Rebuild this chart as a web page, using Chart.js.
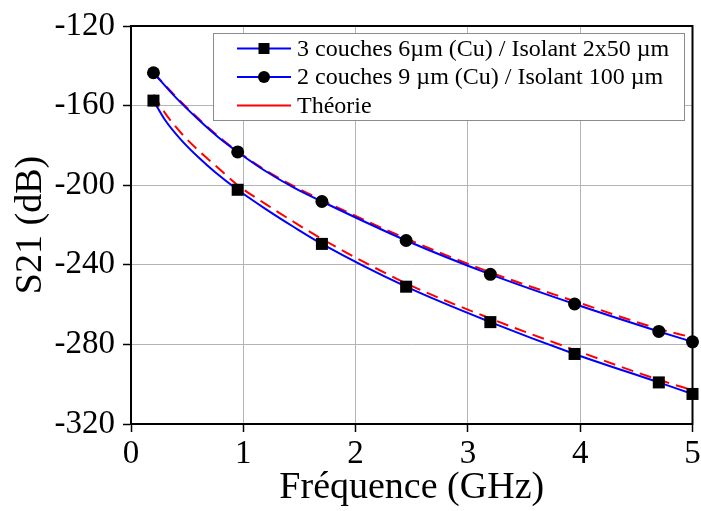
<!DOCTYPE html>
<html>
<head>
<meta charset="utf-8">
<script src="https://cdn.jsdelivr.net/npm/chart.js@4.4.1/dist/chart.umd.min.js"></script>
<style>
  html, body { margin: 0; padding: 0; background: #fff; }
  #wrap { width: 701px; height: 511px; }
</style>
</head>
<body>
<div id="wrap"><canvas id="c" width="701" height="511"></canvas></div>
<script>
// ---- Data ----
const markerX = [0.2, 0.95, 1.7, 2.45, 3.2, 3.95, 4.7, 5.0];

const freq3 = [0.2, 0.3, 0.45, 0.6, 0.75, 0.95, 1.2, 1.45, 1.7, 2.45, 3.2, 3.95, 4.7, 5.0];
const s21_3couches = [-157.5, -167, -177.5, -186, -193.5, -202.3, -212, -221, -229.5, -251, -268.8, -284.8, -299.1, -304.9];

const freq2 = [0.2, 0.4, 0.6, 0.78, 0.95, 1.2, 1.45, 1.7, 2.45, 3.2, 3.95, 4.7, 5.0];
const s21_2couches = [-143.5, -156, -167, -176, -183.3, -193, -201.2, -208.2, -227.8, -244.8, -259.7, -273.5, -278.7];

const freqTh3 = [0.2, 0.3, 0.45, 0.6, 0.75, 0.95, 1.2, 1.45, 1.7, 2.45, 3.2, 3.95, 4.7, 5.0];
const theorie3 = [-154.5, -163.5, -174, -182.5, -190, -200, -209.5, -218.5, -227, -249.3, -267, -282.8, -297.8, -303];

const freqTh2 = [0.2, 0.4, 0.6, 0.78, 0.95, 1.2, 1.45, 1.7, 2.45, 3.2, 3.95, 4.7, 5.0];
const theorie2 = [-143.5, -155.5, -166.5, -175.5, -183, -192.5, -200.5, -207.5, -226.8, -243.8, -258.3, -272.2, -276.5];

const legendLabels = ["3 couches 6\u00b5m (Cu) / Isolant 2x50 \u00b5m", "2 couches 9 \u00b5m (Cu) / Isolant 100 \u00b5m", "Th\u00e9orie"];
const xTitle = "Fr\u00e9quence (GHz)";
const yTitle = "S21 (dB)";
const xMin = 0, xMax = 5, xStep = 1;
const yMin = -320, yMax = -120, yStep = 40;

// ---- Build chart ----
const pts = (xs, ys) => xs.map((x, i) => ({x: x, y: ys[i]}));
const isMarker = (ctx, r) => (ctx.raw && markerX.some(m => Math.abs(m - ctx.raw.x) < 1e-9)) ? r : 0;

Chart.defaults.font.family = "'Liberation Serif', 'Times New Roman', serif";
Chart.defaults.color = '#000';

const FONT = "'Liberation Serif', 'Times New Roman', serif";

const frame = {
  id: 'frame',
  beforeDatasetsDraw(chart) {
    const {ctx, chartArea: a} = chart;
    ctx.save();
    ctx.strokeStyle = '#000';
    ctx.lineWidth = 2;
    ctx.strokeRect(a.left, a.top, a.right - a.left, a.bottom - a.top);
    ctx.restore();
  }
};

const boxLegend = {
  id: 'boxLegend',
  afterDraw(chart) {
    const {ctx, chartArea: a} = chart;
    const l = a.left + 82, t = a.top + 7, w = 471, h = 87;
    ctx.save();
    ctx.fillStyle = '#fff';
    ctx.fillRect(l, t, w, h);
    ctx.strokeStyle = '#8c8c8c';
    ctx.lineWidth = 1;
    ctx.strokeRect(l + 0.5, t + 0.5, w, h);
    const items = [
      {color: '#0000ff', marker: 'rect'},
      {color: '#0000ff', marker: 'circle'},
      {color: '#ff0000', marker: null}
    ];
    ctx.font = "24px " + FONT;
    ctx.textBaseline = 'middle';
    ctx.textAlign = 'left';
    items.forEach((it, i) => {
      const y = t + 15.5 + i * 28.5;
      ctx.strokeStyle = it.color;
      ctx.lineWidth = 2;
      ctx.beginPath();
      ctx.moveTo(l + 24, y);
      ctx.lineTo(l + 78, y);
      ctx.stroke();
      ctx.fillStyle = '#000';
      if (it.marker === 'rect') {
        ctx.fillRect(l + 51 - 5.5, y - 5.5, 11, 11);
      } else if (it.marker === 'circle') {
        ctx.beginPath();
        ctx.arc(l + 51, y, 6, 0, Math.PI * 2);
        ctx.fill();
      }
      ctx.fillStyle = '#000';
      ctx.fillText(legendLabels[i], l + 84, y + 1);
    });
    ctx.restore();
  }
};

new Chart(document.getElementById('c'), {
  type: 'line',
  data: {
    datasets: [
      {
        label: legendLabels[0],
        data: pts(freq3, s21_3couches),
        borderColor: '#0000ff',
        borderWidth: 2,
        cubicInterpolationMode: 'monotone',
        pointStyle: 'rect',
        pointRadius: ctx => isMarker(ctx, 8.5),
        pointBackgroundColor: '#000',
        pointBorderColor: '#000',
        pointBorderWidth: 0,
        clip: false,
        order: 0
      },
      {
        label: legendLabels[1],
        data: pts(freq2, s21_2couches),
        borderColor: '#0000ff',
        borderWidth: 2,
        cubicInterpolationMode: 'monotone',
        pointStyle: 'circle',
        pointRadius: ctx => isMarker(ctx, 6.5),
        pointBackgroundColor: '#000',
        pointBorderColor: '#000',
        pointBorderWidth: 0,
        clip: false,
        order: 1
      },
      {
        label: legendLabels[2],
        data: pts(freqTh3, theorie3),
        borderColor: '#ff0000',
        borderWidth: 2,
        borderDash: [12, 7],
        cubicInterpolationMode: 'monotone',
        pointRadius: 0,
        order: 2
      },
      {
        label: legendLabels[2] + ' ',
        data: pts(freqTh2, theorie2),
        borderColor: '#ff0000',
        borderWidth: 2,
        borderDash: [12, 7],
        cubicInterpolationMode: 'monotone',
        pointRadius: 0,
        order: 3
      }
    ]
  },
  options: {
    responsive: false,
    animation: false,
    events: [],
    layout: { padding: { left: 0, right: 7, top: 26, bottom: 0 } },
    plugins: { legend: { display: false }, tooltip: { enabled: false } },
    scales: {
      x: {
        type: 'linear',
        min: xMin, max: xMax,
        ticks: { stepSize: xStep, font: { size: 33 }, padding: 3, color: '#000', maxRotation: 0 },
        grid: { color: '#b4b4b4', lineWidth: 1, tickColor: '#000', tickLength: 8, tickWidth: 1.5 },
        border: { color: '#000', width: 2 },
        title: { display: true, text: xTitle, font: { size: 38 }, color: '#000', padding: { top: 0, bottom: 0 } },
        afterFit(s) { s.height = 87; s.paddingRight = 0; s.paddingLeft = 0; }
      },
      y: {
        type: 'linear',
        min: yMin, max: yMax,
        ticks: { stepSize: yStep, font: { size: 33 }, padding: 8, color: '#000' },
        grid: { color: '#b4b4b4', lineWidth: 1, tickColor: '#000', tickLength: 8, tickWidth: 1.5 },
        border: { color: '#000', width: 2 },
        title: { display: true, text: yTitle, font: { size: 38 }, color: '#000', padding: { top: 8, bottom: 0 } },
        afterFit(s) { s.width = 131; s.paddingTop = 0; s.paddingBottom = 0; }
      }
    }
  },
  plugins: [frame, boxLegend]
});
</script>
</body>
</html>
